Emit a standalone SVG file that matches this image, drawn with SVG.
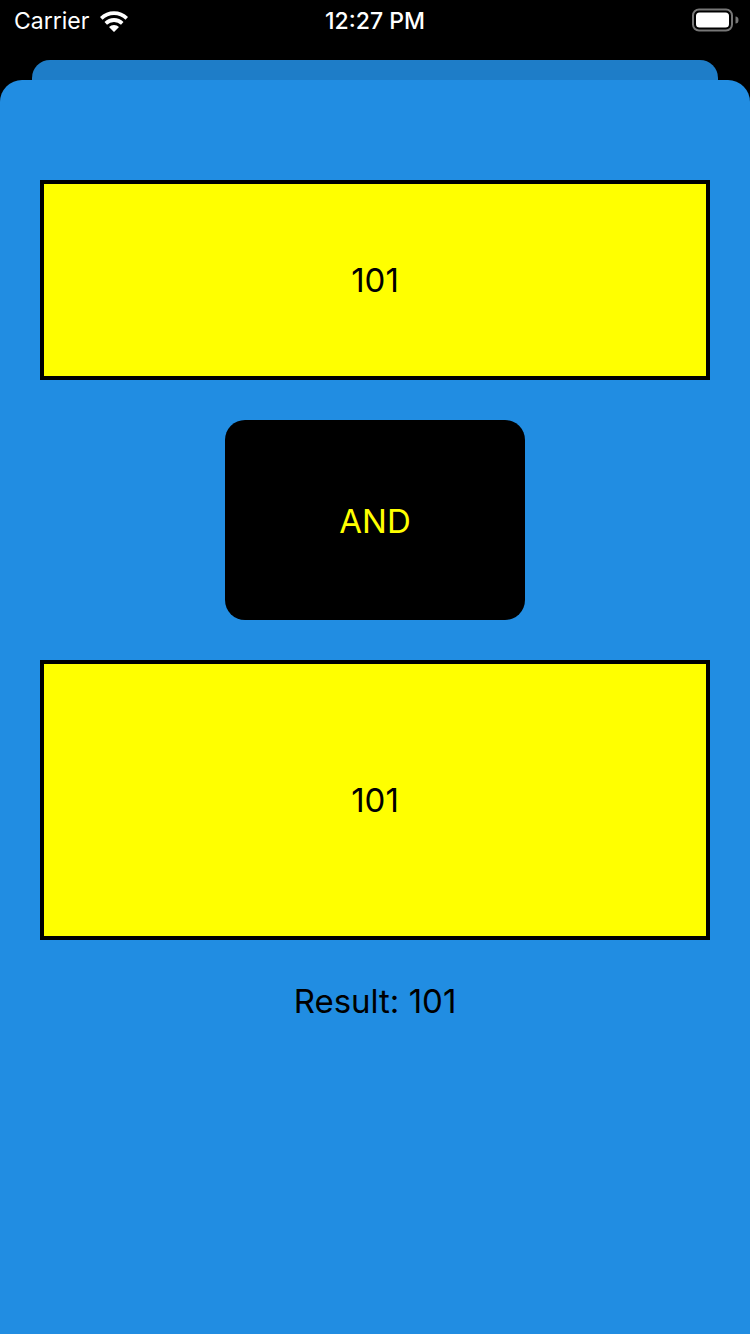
<svg xmlns="http://www.w3.org/2000/svg" width="750" height="1334" viewBox="0 0 750 1334">
<style>
.sb{font-family:"Inter","Liberation Sans",sans-serif;fill:#fff;font-size:23px}
.lbl{font-family:"Inter","Liberation Sans",sans-serif;font-size:33px;text-anchor:middle}
.box{fill:#ffff00;stroke:#000;stroke-width:4}
</style>
<rect x="0" y="0" width="750" height="1334" fill="#000"/>
<g id="statusbar">
<text class="sb" x="14" y="29">Carrier</text>
<path d="M100,17 A20,20 0 0 1 128,17 L125.5,19.8 A16,16 0 0 0 102.5,19.8 Z M104.5,22 A13.5,13.5 0 0 1 123.5,22 L121,24.8 A10,10 0 0 0 107,24.8 Z M109,27 A7,7 0 0 1 119,27 L114,32 Z" fill="#fff"/>
<text class="sb" x="375" y="29" text-anchor="middle" font-weight="500" font-size="24.5">12:27 PM</text>
<rect x="693" y="9.5" width="39" height="21" rx="6" fill="none" stroke="#777" stroke-width="2"/>
<rect x="696" y="12.5" width="33" height="15" rx="3.5" fill="#fff"/>
<path d="M735.5,16.5 a3,3.5 0 0 1 0,7 z" fill="#777"/>
</g>
<g id="cards">
<rect x="32" y="60" width="686" height="1300" rx="18" fill="#1e7dc8"/>
<rect x="0" y="80" width="750" height="1300" rx="22" fill="#218de2"/>
</g>
<g id="input1">
<rect class="box" x="42" y="182" width="666" height="196"/>
<text class="lbl" x="375" y="292">101</text>
</g>
<g id="operator">
<rect x="225" y="420" width="300" height="200" rx="20" fill="#000"/>
<text class="lbl" x="375" y="533" fill="#ffff00">AND</text>
</g>
<g id="input2">
<rect class="box" x="42" y="662" width="666" height="276"/>
<text class="lbl" x="375" y="812">101</text>
</g>
<g id="result">
<text class="lbl" x="375" y="1013">Result: 101</text>
</g>
<g id="connectors"/>
</svg>
